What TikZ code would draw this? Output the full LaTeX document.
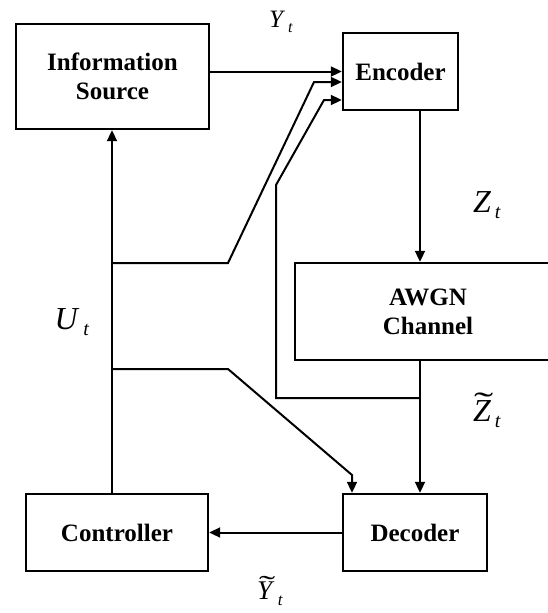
\documentclass[tikz,border=0pt]{standalone}
\usepackage{fontspec}
\usepackage{graphicx}
\setmainfont{Liberation Serif}
\usetikzlibrary{arrows.meta}
\newcommand{\sig}[2]{\textit{#1}\raisebox{-0.45ex}{\kern0.12em\fontsize{#2}{#2}\selectfont\textit{t}}}
\newcommand{\tld}[1]{\ooalign{\textit{#1}\cr\hidewidth\raisebox{0.2em}{\kern0.1em\scalebox{1.8}[1]{\char"02DC}}\hidewidth\cr}}
\begin{document}
\begin{tikzpicture}[x=1pt,y=-1pt,line width=2pt]
\tikzset{every node/.style={inner sep=0pt, align=center}}
\tikzstyle{box}=[draw,line width=2.4pt,fill=white,font=\bfseries\fontsize{25}{29}\selectfont]
\tikzstyle{note}=[font=\fontsize{32}{32}\selectfont]
\tikzstyle{arr}=[-{Triangle[length=11pt,width=10pt]}]
\useasboundingbox (0,0) rectangle (547,613);
% blocks
\node[box,minimum width=193pt,minimum height=105pt] (src) at (112.5,76.5) {Information\\Source};
\node[box,minimum width=115pt,minimum height=77pt] (enc) at (400.5,71.5) {Encoder};
\node[box,minimum width=266pt,minimum height=97pt] (awgn) at (428,311.5) {AWGN\\Channel};
\node[box,minimum width=144pt,minimum height=77pt] (dec) at (415,532.5) {Decoder};
\node[box,minimum width=182pt,minimum height=77pt] (ctrl) at (117,532.5) {Controller};
% labels
\node[note,font=\fontsize{25}{25}\selectfont] (ylab) at (281,22) {\sig{Y}{16}};
\node[note] (ulab) at (72,322) {\sig{U}{20}};
\node[note] (zlab) at (487,205) {\sig{Z}{20}};
\node[note] (ztlab) at (487,414) {\tld{Z}\raisebox{-0.45ex}{\kern0.12em\fontsize{20}{20}\selectfont\textit{t}}};
\node[note,font=\fontsize{27}{27}\selectfont] (ytlab) at (270,594) {\tld{Y}\raisebox{-0.45ex}{\kern0.12em\fontsize{17}{17}\selectfont\textit{t}}};
% branch points
\coordinate (ux) at (112,0);
\coordinate (zx) at (420,0);
\coordinate (ub) at (112,263);
\coordinate (lb) at (112,369);
\coordinate (fb) at (420,398);
% connectors
\draw[arr] (src.east |- enc.west) -- (enc.west);
\draw[arr] (enc.south -| zx) -- (awgn.north -| zx);
\draw[arr] (awgn.south -| zx) -- (dec.north -| zx);
\draw[arr] (dec.west |- ctrl.east) -- (ctrl.east);
\draw[arr] (ctrl.north -| ux) -- (src.south -| ux);
\draw[arr] (ub) -- (228,263) -- (314,82) -- (enc.west |- 0,82);
\draw[arr] (lb) -- (228,369) -- (352,475) -- (dec.north -| 352,0);
\draw[arr] (fb) -- (276,398) -- (276,185) -- (324,100) -- (enc.west |- 0,100);
\end{tikzpicture}
\end{document}
